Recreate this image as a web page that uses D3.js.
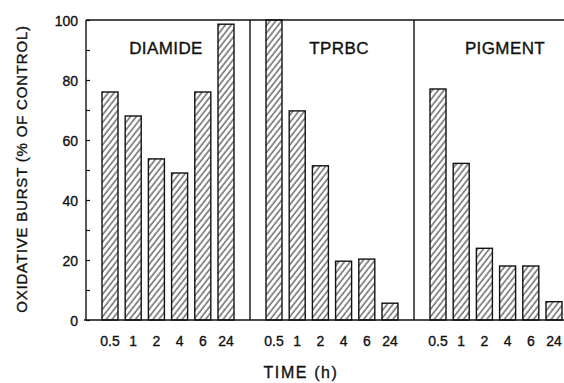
<!DOCTYPE html>
<html>
<head>
<meta charset="utf-8">
<script src="https://cdn.jsdelivr.net/npm/d3@7"></script>
<style>
  body { margin: 0; background: #fff; }
  text { font-family: "Liberation Sans", Arial, sans-serif; fill: #111; stroke: #111; stroke-width: 0.35px; }
</style>
</head>
<body>
<svg id="chart"></svg>
<script>
// data
const treatments = ["DIAMIDE", "TPRBC", "PIGMENT"];
const times = ["0.5", "1", "2", "4", "6", "24"];
const diamide = [76, 68, 53.7, 49, 76, 98.6];
const tprbc = [100, 69.7, 51.4, 19.6, 20.3, 5.6];
const pigment = [77, 52.2, 23.9, 18, 18, 6.1];
const yTicks = [0, 20, 40, 60, 80, 100];

const series = [diamide, tprbc, pigment];

const width = 564, height = 383;
const margin = { top: 20, left: 86, bottom: 63 };
const panelWidth = 164;
const labelShift = [-2, 7, 9]; // panel titles are not exactly centred

const svg = d3.select("#chart")
    .attr("width", width)
    .attr("height", height);

// hatch fill, steep "/" lines
const defs = svg.append("defs");
defs.append("pattern")
    .attr("id", "hatch")
    .attr("patternUnits", "userSpaceOnUse")
    .attr("width", 4.6)
    .attr("height", 10)
    .attr("patternTransform", "rotate(38)")
    .append("line")
    .attr("x1", 1).attr("y1", 0)
    .attr("x2", 1).attr("y2", 10)
    .attr("stroke", "#222")
    .attr("stroke-width", 1);

const y = d3.scaleLinear()
    .domain([0, 100])
    .range([height - margin.bottom, margin.top]);

const panelX = d3.scaleBand()
    .domain(treatments)
    .range([margin.left, margin.left + panelWidth * treatments.length])
    .padding(0);

const barX = d3.scaleBand()
    .domain(times)
    .range([0, panelWidth])
    .paddingInner(0.31)
    .paddingOuter(0.69);

// y axis, ticks pointing inward
const yAxis = svg.append("g")
    .attr("transform", `translate(${margin.left},0)`)
    .call(d3.axisLeft(y)
        .tickValues(d3.range(0, 101, 10))
        .tickSizeInner(-4)
        .tickSizeOuter(0)
        .tickPadding(8)
        .tickFormat(d => yTicks.includes(d) ? d : ""));
yAxis.select(".domain").remove();
yAxis.selectAll(".tick line").attr("stroke", "#111").attr("stroke-width", 1.2);
yAxis.selectAll(".tick text")
    .attr("font-size", 14)
    .attr("font-family", "Liberation Sans, Arial, sans-serif")
    .attr("fill", "#111")
    .attr("dy", "0.36em");

// frame
const right = margin.left + panelWidth * treatments.length;
const frame = svg.append("g")
    .attr("stroke", "#111")
    .attr("stroke-width", 1.4)
    .attr("fill", "none");
frame.append("line")
    .attr("x1", margin.left).attr("x2", right)
    .attr("y1", y(100)).attr("y2", y(100));
frame.append("line")
    .attr("x1", margin.left - 2).attr("x2", right)
    .attr("y1", y(0)).attr("y2", y(0));
frame.selectAll("line.div")
    .data(treatments)
    .join("line")
    .attr("class", "div")
    .attr("x1", d => panelX(d)).attr("x2", d => panelX(d))
    .attr("y1", y(100)).attr("y2", y(0));

// panels
const panels = svg.selectAll("g.panel")
    .data(treatments.map((t, i) => ({ name: t, values: series[i], shift: labelShift[i] })))
    .join("g")
    .attr("class", "panel")
    .attr("transform", d => `translate(${panelX(d.name)},0)`);

panels.selectAll("rect")
    .data(d => d.values.map((v, i) => ({ time: times[i], value: v })))
    .join("rect")
    .attr("x", d => barX(d.time))
    .attr("y", d => y(d.value))
    .attr("width", barX.bandwidth())
    .attr("height", d => y(0) - y(d.value))
    .attr("fill", "url(#hatch)")
    .attr("stroke", "#111")
    .attr("stroke-width", 1.4);

panels.append("text")
    .attr("x", d => panelWidth / 2 + d.shift)
    .attr("y", 54)
    .attr("text-anchor", "middle")
    .attr("font-size", 17)
    .attr("letter-spacing", 0.4)
    .text(d => d.name);

panels.selectAll("text.tl")
    .data(times)
    .join("text")
    .attr("class", "tl")
    .attr("x", d => barX(d) + barX.bandwidth() / 2)
    .attr("y", 346)
    .attr("text-anchor", "middle")
    .attr("font-size", 14)
    .text(d => d);

// axis titles
svg.append("text")
    .attr("transform", `translate(27,169) rotate(-90)`)
    .attr("text-anchor", "middle")
    .attr("font-size", 15)
    .attr("letter-spacing", 0.8)
    .text("OXIDATIVE BURST (% OF CONTROL)");

svg.append("text")
    .attr("x", 301)
    .attr("y", 378)
    .attr("text-anchor", "middle")
    .attr("font-size", 16)
    .attr("letter-spacing", 1.6)
    .text("TIME (h)");
</script>
</body>
</html>
